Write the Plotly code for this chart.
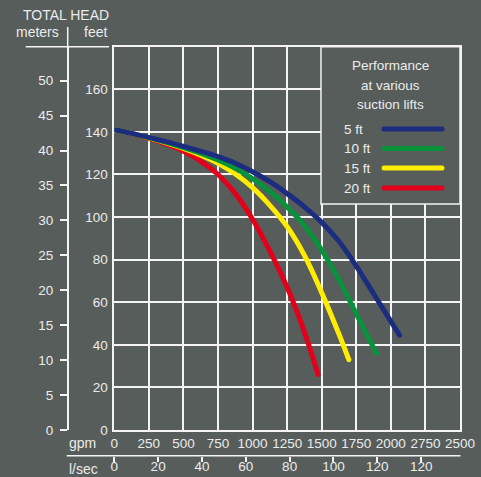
import plotly.graph_objects as go

# ---------------- data ----------------
gpm_ticks = [0, 250, 500, 750, 1000, 1250, 1500, 1750, 2000, 2250, 2500]
gpm_tick_labels = ["0", "250", "500", "750", "1000", "1250", "1500", "1750", "2000", "2750", "2500"]
feet_ticks = [0, 20, 40, 60, 80, 100, 120, 140, 160]
meter_ticks = [0, 5, 10, 15, 20, 25, 30, 35, 40, 45, 50]
lsec_ticks = [0, 20, 40, 60, 80, 100, 120, 140]
lsec_tick_labels = ["0", "20", "40", "60", "80", "100", "120", "120"]

series_names = ["5 ft", "10 ft", "15 ft", "20 ft"]

lift5_gpm = [0, 125, 250, 375, 500, 625, 750, 875, 1000, 1125, 1250, 1375, 1500, 1625, 1750, 1875, 2000, 2063]
lift5_ft = [141, 139.3, 137.4, 135.4, 133.2, 130.9, 128.4, 125.3, 121.3, 116.6, 111, 104.8, 97.5, 88.5, 77, 64, 51, 44.5]

lift10_gpm = [0, 125, 250, 375, 500, 625, 750, 875, 1000, 1125, 1250, 1375, 1500, 1625, 1750, 1896]
lift10_ft = [141, 139.3, 137.3, 135.1, 132.6, 129.9, 126.8, 122.9, 118, 112, 104.7, 96, 84.5, 70.5, 54.5, 36]

lift15_gpm = [0, 125, 250, 375, 500, 625, 750, 875, 1000, 1125, 1250, 1375, 1500, 1625, 1696]
lift15_ft = [141, 139.3, 137.2, 134.9, 132.2, 129, 125.2, 120.2, 113.8, 105.5, 95.5, 82, 64.5, 45, 33]

lift20_gpm = [0, 125, 250, 375, 500, 625, 750, 875, 1000, 1125, 1250, 1375, 1474]
lift20_ft = [141, 139.2, 136.9, 134.2, 130.9, 126.3, 120, 111, 99, 84, 67, 46, 26]

series_x = [lift5_gpm, lift10_gpm, lift15_gpm, lift20_gpm]
series_y = [lift5_ft, lift10_ft, lift15_ft, lift20_ft]
series_colors = ["#1c2d80", "#08923c", "#ffec00", "#e3001b"]

M_TO_FT = 3.28084
GPM_TO_LPS = 0.0630902

# ---------------- layout helpers ----------------
W, H = 481, 477
ML, MR, MT, MB = 20, 21, 27, 10
PW = W - ML - MR
PH = H - MT - MB


def fx(px):
    return (px - ML) / PW


def fy(py):
    return (H - MB - py) / PH


BG = "#565d5b"
FG = "#f4f4f4"
TXT = "#ececec"
FONT = "Liberation Sans, Arial, sans-serif"
FS = 13.5

fig = go.Figure()

# draw order: red first so blue lies on top
for i in [3, 2, 1, 0]:
    fig.add_trace(go.Scatter(
        x=series_x[i], y=series_y[i], mode="lines", name=series_names[i],
        line=dict(color=series_colors[i], width=5, shape="spline", smoothing=1.0),
        showlegend=False, hoverinfo="skip", cliponaxis=False,
    ))

# dummy trace to materialise secondary axes
fig.add_trace(go.Scatter(x=[None], y=[None], xaxis="x2", yaxis="y2",
                         showlegend=False, hoverinfo="skip"))

ydom = [fy(430), fy(46.7)]
xdom = [fx(114.3), 1]

fig.update_layout(
    width=W, height=H,
    margin=dict(l=ML, r=MR, t=MT, b=MB, pad=0, autoexpand=False),
    paper_bgcolor=BG, plot_bgcolor=BG,
    font=dict(family=FONT, size=FS, color=TXT),
    hovermode=False,
    xaxis=dict(domain=xdom, range=[0, 2500], tickmode="array",
               tickvals=gpm_ticks, ticktext=gpm_tick_labels,
               showgrid=True, gridcolor=FG, gridwidth=1.5,
               showline=True, mirror=True, linecolor=FG, linewidth=1.5,
               zeroline=False, ticks="", ticklabelstandoff=0,
               tickfont=dict(size=FS, color=TXT), automargin=False),
    yaxis=dict(domain=ydom, range=[0, 180], tickmode="array",
               tickvals=feet_ticks, ticktext=[str(v) for v in feet_ticks],
               showgrid=True, gridcolor=FG, gridwidth=1.5,
               showline=True, mirror=True, linecolor=FG, linewidth=1.5,
               zeroline=False, ticks="", ticklabelstandoff=2,
               tickfont=dict(size=FS, color=TXT), automargin=False),
    yaxis2=dict(overlaying="y", anchor="free", position=fx(67.7), side="left",
                range=[0, 180 / M_TO_FT], tickmode="array", tickvals=meter_ticks,
                ticktext=[str(v) for v in meter_ticks],
                ticks="outside", ticklen=7, tickwidth=1.5, tickcolor=FG,
                showline=True, linecolor=FG, linewidth=1.5,
                showgrid=False, zeroline=False, ticklabelstandoff=4,
                tickfont=dict(size=FS, color=TXT), automargin=False),
    xaxis2=dict(overlaying="x", anchor="free", position=fy(455.7), side="bottom",
                range=[0, 2500 * GPM_TO_LPS], tickmode="array", tickvals=lsec_ticks,
                ticktext=lsec_tick_labels,
                ticks="outside", ticklen=5, tickwidth=1.5, tickcolor=FG,
                showline=False, showgrid=False, zeroline=False,
                ticklabelstandoff=-7,
                tickfont=dict(size=FS, color=TXT), automargin=False),
)

shapes = []
# header lines
shapes.append(dict(type="line", xref="paper", yref="paper",
                   x0=fx(67.7), x1=fx(67.7), y0=fy(46.7), y1=fy(27),
                   line=dict(color=FG, width=1.5)))
shapes.append(dict(type="line", xref="paper", yref="paper",
                   x0=fx(25.7), x1=fx(109), y0=fy(46.7), y1=fy(46.7),
                   line=dict(color=FG, width=1.5)))
# l/sec axis baseline
shapes.append(dict(type="line", xref="paper", yref="paper",
                   x0=fx(66.7), x1=fx(460.5), y0=fy(455.7), y1=fy(455.7),
                   line=dict(color=FG, width=1.5)))
# legend box
shapes.append(dict(type="rect", xref="paper", yref="paper",
                   x0=fx(321), x1=1, y0=fy(204), y1=fy(46.7),
                   fillcolor=BG, line=dict(color=FG, width=1.5), layer="above"))
legend_rows = [129, 148.5, 168, 188]
for i, ry in enumerate(legend_rows):
    shapes.append(dict(type="line", xref="paper", yref="paper",
                       x0=fx(384), x1=fx(442), y0=fy(ry), y1=fy(ry),
                       line=dict(color=series_colors[i], width=5), layer="above"))
fig.update_layout(shapes=shapes)

ann = []


def txt(text, px, py, xanchor="center", size=FS):
    ann.append(dict(text=text, xref="paper", yref="paper", x=fx(px), y=fy(py),
                    xanchor=xanchor, yanchor="middle", showarrow=False,
                    font=dict(family=FONT, size=size, color=TXT)))


txt("TOTAL HEAD", 66.3, 15, size=14)
txt("meters", 37.2, 32.3, size=14)
txt("feet", 95, 32.3, size=14)
txt("gpm", 82.5, 442.7, size=14)
txt("l/sec", 83.8, 469.3, size=14)
txt("Performance", 390, 65.5)
txt("at various", 390, 85)
txt("suction lifts", 390, 104.5)
for i, ry in enumerate(legend_rows):
    txt(series_names[i], 341.5, ry, xanchor="left")
fig.update_layout(annotations=ann)

page_js = ("document.body.style.margin='0';document.body.style.padding='0';"
           "document.body.style.background='" + BG + "';"
           "document.documentElement.style.background='" + BG + "';"
           "document.querySelectorAll('.scatterlayer path.js-line')"
           ".forEach(function(p){p.style.strokeLinecap='round';p.style.strokeLinejoin='round';});"
           "document.querySelectorAll('.shapelayer path')"
           ".forEach(function(p){if(parseFloat(p.style.strokeWidth)>=4){p.style.strokeLinecap='round';}});")
fig.write_html("out.html", post_script=page_js, config={"displayModeBar": False})
